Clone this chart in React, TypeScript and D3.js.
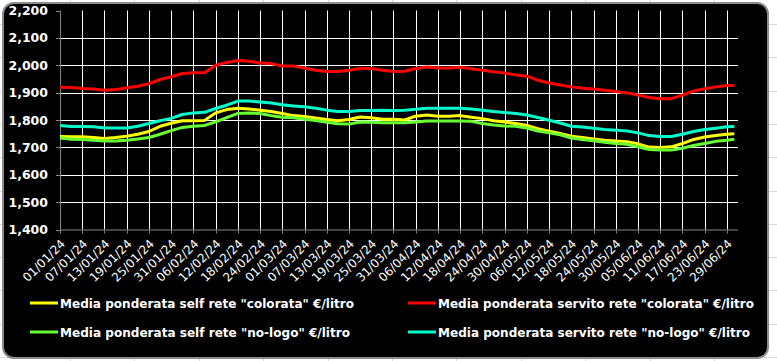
import React, { useEffect, useRef } from "react";
import * as d3 from "d3";

// sampled every 3 days from 01/01/24, last point 01/07/24
const selfColorata = [
  1740, 1739, 1739, 1736, 1732, 1736, 1741, 1748, 1758, 1777, 1788,
  1797, 1797, 1798, 1826, 1838, 1843, 1840, 1836, 1831, 1824,
  1816, 1813, 1807, 1802, 1797, 1802, 1811, 1808, 1803, 1803,
  1800, 1814, 1818, 1814, 1814, 1816, 1810, 1805, 1797, 1793,
  1787, 1780, 1768, 1759, 1751, 1741, 1736, 1731, 1726, 1723,
  1721, 1713, 1701, 1700, 1702, 1714, 1729, 1738, 1743, 1748, 1750,
];
const servitoColorata = [
  1920, 1919, 1915, 1913, 1909, 1911, 1918, 1923, 1933, 1948, 1958,
  1970, 1973, 1973, 2000, 2010, 2017, 2015, 2008, 2006, 1997,
  1997, 1989, 1982, 1977, 1977, 1982, 1989, 1988, 1982, 1977,
  1978, 1988, 1994, 1990, 1990, 1993, 1987, 1982, 1976, 1972,
  1964, 1960, 1945, 1935, 1928, 1921, 1916, 1913, 1909, 1904,
  1899, 1891, 1882, 1878, 1878, 1891, 1906, 1914, 1921, 1926, 1926,
];
const selfNoLogo = [
  1734, 1730, 1729, 1726, 1723, 1723, 1726, 1731, 1736, 1748, 1761,
  1773, 1777, 1780, 1793, 1809, 1824, 1826, 1824, 1816, 1810,
  1808, 1803, 1798, 1792, 1786, 1785, 1793, 1792, 1790, 1790,
  1790, 1793, 1796, 1796, 1796, 1796, 1795, 1787, 1782, 1778,
  1777, 1771, 1760, 1753, 1746, 1734, 1729, 1724, 1719, 1714,
  1711, 1702, 1692, 1690, 1690, 1697, 1707, 1714, 1722, 1726, 1730,
];
const servitoNoLogo = [
  1780, 1776, 1776, 1775, 1771, 1771, 1771, 1777, 1787, 1797, 1806,
  1820, 1826, 1828, 1842, 1854, 1869, 1869, 1866, 1862, 1856,
  1851, 1848, 1843, 1836, 1831, 1831, 1835, 1835, 1836, 1835,
  1836, 1839, 1843, 1843, 1843, 1843, 1840, 1836, 1831, 1827,
  1824, 1818, 1809, 1799, 1789, 1777, 1774, 1770, 1765, 1763,
  1760, 1753, 1743, 1740, 1740, 1748, 1758, 1765, 1770, 1775, 1776,
];

const seriesNames = [
  'Media ponderata self rete "colorata" €/litro',
  'Media ponderata servito rete "colorata" €/litro',
  'Media ponderata self rete "no-logo" €/litro',
  'Media ponderata servito rete "no-logo" €/litro',
];
const seriesColors = ["#ffff00", "#ff0000", "#66ff33", "#00ffcc"];
const yTicks = [1400, 1500, 1600, 1700, 1800, 1900, 2000, 2100, 2200];

export default function App() {
  const ref = useRef(null);

  useEffect(() => {
    document.body.style.margin = "0";
    const svg = d3.select(ref.current);
    svg.selectAll("*").remove();

    const W = 777, H = 361;
    const left = 60, right = 738, top = 10.5, bottom = 229.5;

    // sample dates
    const start = new Date(2024, 0, 1);
    const dates = d3.timeDay.range(start, new Date(2024, 5, 30), 3);
    dates.push(new Date(2024, 6, 1));
    const tickDates = d3.timeDay.range(start, new Date(2024, 5, 30), 6);
    const fmt = d3.timeFormat("%d/%m/%y");

    const x = d3.scaleTime().domain([start, new Date(2024, 6, 2)]).range([left, right]);
    const y = d3.scaleLinear().domain([1400, 2200]).range([bottom, top]);

    // spreadsheet cells behind the chart
    const bg = svg.append("g");
    bg.append("rect").attr("width", W).attr("height", H).attr("fill", "#ffffff");
    d3.range(70, W, 64.4).forEach(v => {
      bg.append("line").attr("x1", Math.round(v) + 0.5).attr("x2", Math.round(v) + 0.5)
        .attr("y1", 0).attr("y2", H).attr("stroke", "#d9d9d9");
    });
    d3.range(24, H, 33.3).forEach(v => {
      bg.append("line").attr("y1", Math.round(v) + 0.5).attr("y2", Math.round(v) + 0.5)
        .attr("x1", 0).attr("x2", W).attr("stroke", "#d9d9d9");
    });

    svg.append("rect")
      .attr("x", 3).attr("y", 3).attr("width", 765).attr("height", 355)
      .attr("rx", 11).attr("fill", "#000000")
      .attr("stroke", "#8c8c8c").attr("stroke-width", 2);

    const g = svg.append("g");

    // horizontal grid
    g.selectAll(".hgrid").data(yTicks.filter(t => t > 1400 && t < 2200)).join("line")
      .attr("x1", left).attr("x2", right)
      .attr("y1", d => Math.round(y(d)) + 0.5).attr("y2", d => Math.round(y(d)) + 0.5)
      .attr("stroke", "#ffffff").attr("stroke-width", 1);

    // vertical grid
    g.selectAll(".vgrid").data(tickDates.slice(1)).join("line")
      .attr("x1", d => Math.round(x(d)) + 0.5).attr("x2", d => Math.round(x(d)) + 0.5)
      .attr("y1", top).attr("y2", bottom)
      .attr("stroke", "#ffffff").attr("stroke-width", 1);

    // axes
    g.append("line").attr("x1", left + 0.5).attr("x2", left + 0.5)
      .attr("y1", top).attr("y2", bottom + 0.5).attr("stroke", "#868686");
    g.append("line").attr("x1", left).attr("x2", right)
      .attr("y1", bottom + 0.5).attr("y2", bottom + 0.5).attr("stroke", "#868686");

    g.selectAll(".ytick").data(yTicks).join("line")
      .attr("x1", left - 4).attr("x2", left)
      .attr("y1", d => Math.round(y(d)) + 0.5).attr("y2", d => Math.round(y(d)) + 0.5)
      .attr("stroke", "#868686");
    g.selectAll(".xtick").data(tickDates).join("line")
      .attr("x1", d => Math.round(x(d)) + 0.5).attr("x2", d => Math.round(x(d)) + 0.5)
      .attr("y1", bottom).attr("y2", bottom + 4)
      .attr("stroke", "#868686");

    g.selectAll(".ylab").data(yTicks).join("text")
      .attr("x", 48).attr("y", d => y(d))
      .attr("dy", "0.36em")
      .attr("text-anchor", "end")
      .attr("fill", "#ffffff")
      .style("font-family", "'DejaVu Sans', Verdana, sans-serif")
      .style("font-weight", "bold")
      .style("font-size", "12.5px")
      .text(d => d3.format(",")(d));

    g.selectAll(".xlab").data(tickDates).join("text")
      .attr("transform", d => `translate(${x(d) + 3},${bottom + 12}) rotate(-45)`)
      .attr("text-anchor", "end")
      .attr("dy", "0.35em")
      .attr("fill", "#ffffff")
      .style("font-family", "'DejaVu Sans', Verdana, sans-serif")
      .style("font-size", "12px")
      .text(d => fmt(d));

    // lines
    const allSeries = [selfColorata, servitoColorata, selfNoLogo, servitoNoLogo];
    const line = d3.line().x((d, i) => x(dates[i])).y(d => y(d));
    allSeries.forEach((s, k) => {
      g.append("path")
        .datum(s)
        .attr("d", line)
        .attr("fill", "none")
        .attr("stroke", seriesColors[k])
        .attr("stroke-width", 3)
        .attr("stroke-linejoin", "round");
    });

    // legend
    const legPos = [[30, 303], [408, 303], [30, 332], [408, 332]];
    const legWidths = [294, 316, 290, 312];
    allSeries.forEach((s, k) => {
      const [lx, ly] = legPos[k];
      g.append("line").attr("x1", lx).attr("x2", lx + 28)
        .attr("y1", ly).attr("y2", ly)
        .attr("stroke", seriesColors[k]).attr("stroke-width", 3);
      g.append("text")
        .attr("x", lx + 30).attr("y", ly).attr("dy", "0.36em")
        .attr("textLength", legWidths[k])
        .attr("lengthAdjust", "spacingAndGlyphs")
        .attr("fill", "#ffffff")
        .style("font-family", "'DejaVu Sans', Verdana, sans-serif")
        .style("font-weight", "bold")
        .style("font-size", "12.5px")
        .text(seriesNames[k]);
    });
  }, []);

  return <svg ref={ref} width={777} height={361} style={{ display: "block" }}></svg>;
}
